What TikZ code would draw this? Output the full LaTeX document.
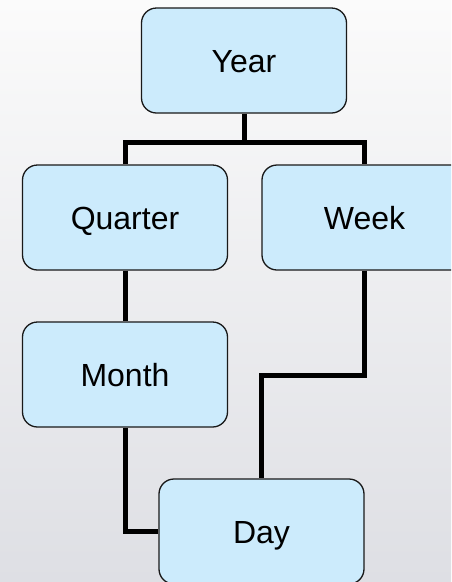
\documentclass[tikz,border=0pt]{standalone}
\usepackage{fontspec}
\setmainfont{Liberation Sans}
\begin{document}
\begin{tikzpicture}[x=1pt,y=1pt,
  box/.style={draw=black!90, line width=1.3pt, fill=boxblue, rounded corners=15pt,
    minimum width=205pt, minimum height=105pt, text height=23pt, text depth=0pt,
    inner sep=0pt, font=\fontsize{32}{38}\selectfont},
  link/.style={line width=5pt, line join=miter, draw=black}]
\definecolor{boxblue}{HTML}{CCEBFC}
\definecolor{bgtop}{HTML}{FBFBFB}
\definecolor{bgbot}{HTML}{DEDFE4}
\useasboundingbox (0,0) rectangle (451,-582);
\shade[top color=bgtop, bottom color=bgbot] (0,0) rectangle (451,-582);
\begin{scope}
\clip (0,0) rectangle (451,-582);
\coordinate (bar) at (244,-142);
\coordinate (wk) at (364,-375);
\coordinate (mo) at (125,-531.5);
\node[box] (year) at (244,-60.5) {Year};
\node[box] (quarter) at (125,-217.5) {Quarter};
\node[box] (week) at (364.5,-217.5) {Week};
\node[box] (month) at (125,-374.5) {Month};
\node[box] (day) at (261.5,-531.5) {Day};
\draw[link] (year.south) -- (bar);
\draw[link] (quarter.north) |- (bar) -| (week.north);
\draw[link] (quarter.south) -- (month.north);
\draw[link] (month.south) |- (day.west);
\draw[link] (week.south) |- (wk) -| (day.north);
\end{scope}
\end{tikzpicture}
\end{document}
